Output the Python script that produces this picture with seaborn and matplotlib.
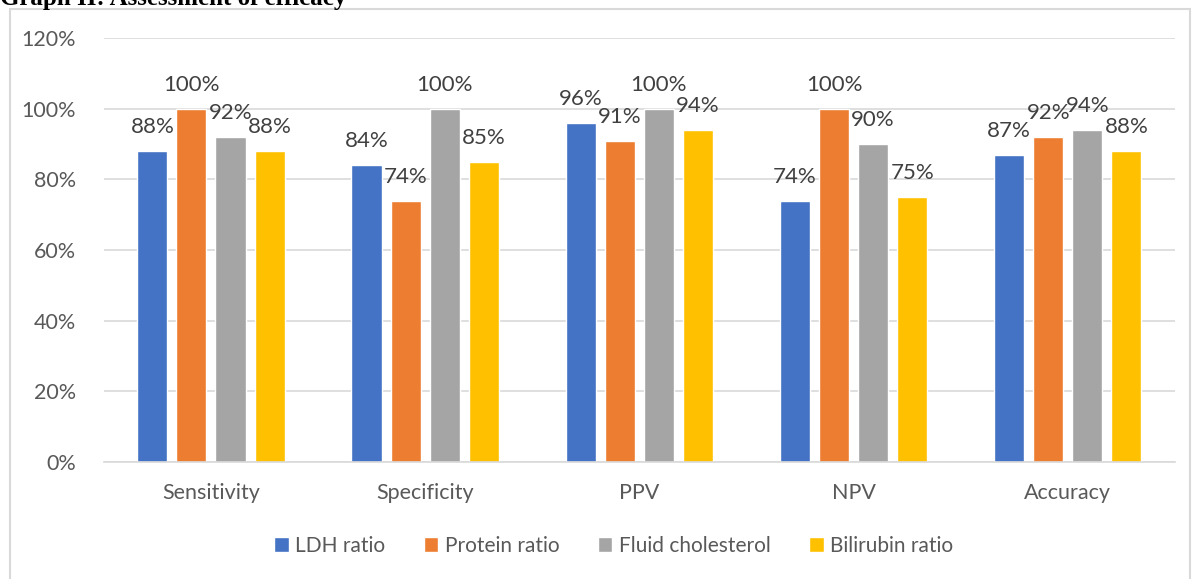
import pandas as pd
import seaborn as sns
import matplotlib.pyplot as plt
from matplotlib.patches import Rectangle

metrics = ["Sensitivity", "Specificity", "PPV", "NPV", "Accuracy"]
ldh_ratio = [88, 84, 96, 74, 87]
protein_ratio = [100, 74, 91, 100, 92]
fluid_cholesterol = [92, 100, 100, 90, 94]
bilirubin_ratio = [88, 85, 94, 75, 88]
series_names = ["LDH ratio", "Protein ratio", "Fluid cholesterol", "Bilirubin ratio"]
yticks = [0, 20, 40, 60, 80, 100, 120]

df = pd.DataFrame({"Metric": metrics, "LDH ratio": ldh_ratio, "Protein ratio": protein_ratio,
                   "Fluid cholesterol": fluid_cholesterol, "Bilirubin ratio": bilirubin_ratio})
long = df.melt(id_vars="Metric", var_name="Test", value_name="Value")

palette = ["#4472C4", "#ED7D31", "#A5A5A5", "#FFC000"]
txt = "#595959"

sns.set_style("white")
plt.rcParams['font.family'] = ['Lato', 'DejaVu Sans']

fig = plt.figure(figsize=(11.94, 5.79), dpi=100)
ax = fig.add_axes([0.087, 0.202, 0.897, 0.732])

sns.barplot(data=long, x="Metric", y="Value", hue="Test", hue_order=series_names,
            palette=palette, width=0.73, gap=0.23, saturation=1, ax=ax, legend=True)

# value labels above each bar
for cont in ax.containers:
    for bar in cont:
        h = bar.get_height()
        ax.annotate(f"{h:.0f}%", (bar.get_x() + bar.get_width() / 2, h),
                    xytext=(0, 13), textcoords="offset points",
                    ha="center", va="baseline", fontsize=16, color="#404040")

ax.set_ylim(0, 120)
ax.set_yticks(yticks)
ax.set_yticklabels([f"{t}%" for t in yticks])
ax.set_xlim(-0.5, 4.5)
ax.yaxis.grid(True, color="#D9D9D9", linewidth=1.2)
ax.set_axisbelow(True)
for s in ["top", "left", "right"]:
    ax.spines[s].set_visible(False)
ax.spines["bottom"].set_color("#D9D9D9")
ax.spines["bottom"].set_linewidth(1.2)
ax.tick_params(axis="y", length=0, pad=20, labelsize=15.5, labelcolor=txt)
ax.tick_params(axis="x", length=0, pad=15, labelsize=15.5, labelcolor=txt)
ax.set_xlabel("")
ax.set_ylabel("")

handles, labels = ax.get_legend_handles_labels()
ax.legend_.remove()
fig.legend(handles, labels, loc="center", bbox_to_anchor=(0.514, 0.057), ncol=4,
           frameon=False, fontsize=15, handlelength=0.7, handleheight=0.7,
           handletextpad=0.3, columnspacing=1.85, labelcolor=txt)

# outer chart frame and the clipped caption above it
fig.patches.append(Rectangle((10 / 1194, -0.05), 1180 / 1194, 1.05 - 9 / 579,
                             transform=fig.transFigure, fill=False,
                             edgecolor="#D9D9D9", linewidth=1.5))
fig.text(0.0, 1 - 5 / 579, "Graph II: Assessment of efficacy", fontsize=18,
         fontweight="bold", family=["Liberation Serif", "DejaVu Serif"],
         ha="left", va="baseline", color="black")

fig.savefig("out.png", dpi=100)
